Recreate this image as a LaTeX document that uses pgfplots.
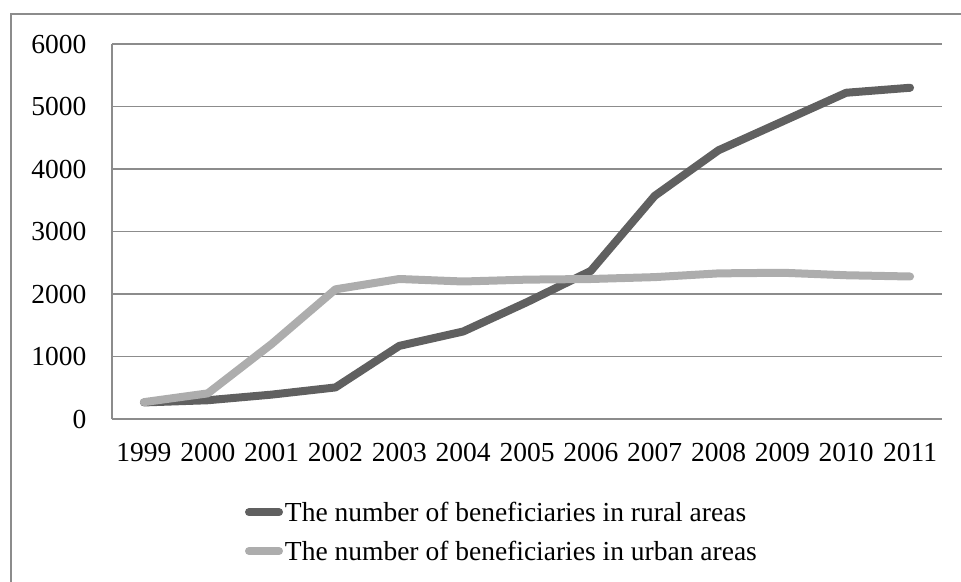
\documentclass[border=0pt]{standalone}
\usepackage{pgfplots}
\pgfplotsset{compat=1.18}
\usepackage{fontspec}
\setmainfont{Liberation Serif}
\definecolor{rural}{HTML}{606060}
\definecolor{urban}{HTML}{ADADAD}
\definecolor{gridc}{HTML}{8C8C8C}
\newcommand{\tickfont}{\fontsize{27.5bp}{31bp}\selectfont}
\newcommand{\legfont}{\fontsize{27.5bp}{31bp}\selectfont}
\begin{document}
\begin{tikzpicture}
\clip (0,0) rectangle (961bp,582bp);
% outer chart frame
\draw[gridc, line width=1.5bp] (11bp,-20bp) rectangle (990bp,568bp);
\begin{axis}[
  scale only axis, width=830bp, height=375bp,
  at={(112bp,163bp)}, anchor=south west,
  xmin=-0.5, xmax=12.5, ymin=0, ymax=6000,
  xtick={0,...,12},
  xticklabels={1999,2000,2001,2002,2003,2004,2005,2006,2007,2008,2009,2010,2011},
  ytick={0,1000,...,6000},
  ymajorgrids, grid style={gridc, line width=1.5bp},
  axis lines*=left, axis line style={gridc, line width=1.5bp},
  major tick length=0pt,
  tick label style={font=\tickfont},
  /pgf/number format/assume math mode=true,
  /pgf/number format/set thousands separator={},
  yticklabel style={xshift=-22bp},
  xticklabel style={yshift=-21bp},
  legend style={at={(0.16,-0.215)}, anchor=north west, draw=none, fill=none,
    font=\legfont, row sep=14bp, inner sep=0pt},
  legend cell align=left,
  legend image code/.code={\draw[#1, line cap=round] (0bp,0bp) -- (30bp,0bp);},
  every axis plot/.append style={line width=8bp, line cap=round, line join=round},
]
% rural beneficiaries
\addplot[rural] coordinates {
  (0,265) (1,300) (2,390) (3,505) (4,1170) (5,1400) (6,1870)
  (7,2370) (8,3570) (9,4300) (10,4760) (11,5220) (12,5300)};
\addlegendentry{The number of beneficiaries in rural areas}
% urban beneficiaries
\addplot[urban] coordinates {
  (0,270) (1,410) (2,1200) (3,2075) (4,2240) (5,2200) (6,2230)
  (7,2240) (8,2270) (9,2330) (10,2340) (11,2300) (12,2280)};
\addlegendentry{The number of beneficiaries in urban areas}
\end{axis}
\end{tikzpicture}
\end{document}
